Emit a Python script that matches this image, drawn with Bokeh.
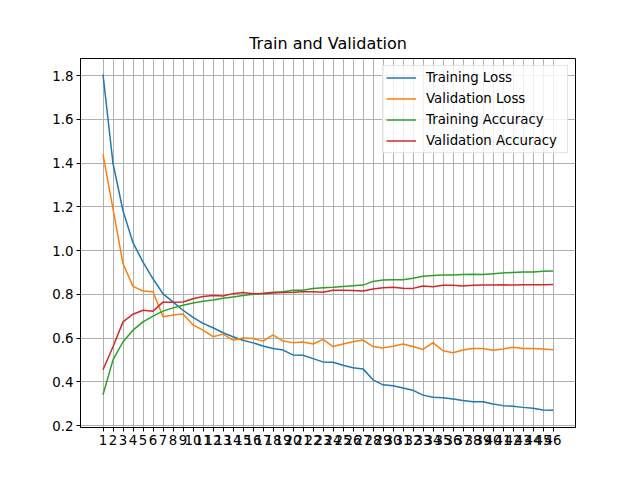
from bokeh.embed import file_html
from bokeh.models import ColumnDataSource, FixedTicker, Legend, LegendItem, PrintfTickFormatter, Range1d
from bokeh.plotting import figure
from bokeh.resources import INLINE

epochs = list(range(1, 47))

train_loss = [
    1.805, 1.398, 1.182, 1.036, 0.947, 0.871, 0.802, 0.765, 0.727, 0.694,
    0.667, 0.647, 0.624, 0.606, 0.590, 0.578, 0.564, 0.552, 0.545, 0.523,
    0.521, 0.506, 0.491, 0.489, 0.476, 0.464, 0.459, 0.409, 0.386, 0.382,
    0.372, 0.361, 0.339, 0.329, 0.327, 0.321, 0.314, 0.309, 0.309, 0.298,
    0.291, 0.288, 0.283, 0.279, 0.271, 0.270,
]
val_loss = [
    1.440, 1.190, 0.940, 0.836, 0.815, 0.812, 0.697, 0.705, 0.710, 0.660,
    0.636, 0.606, 0.618, 0.590, 0.600, 0.598, 0.586, 0.614, 0.586, 0.579,
    0.582, 0.573, 0.594, 0.561, 0.573, 0.583, 0.591, 0.561, 0.555, 0.562,
    0.573, 0.561, 0.548, 0.579, 0.542, 0.533, 0.545, 0.552, 0.552, 0.544,
    0.550, 0.558, 0.552, 0.552, 0.550, 0.547,
]
train_acc = [
    0.341, 0.500, 0.583, 0.636, 0.674, 0.700, 0.723, 0.738, 0.750, 0.760,
    0.768, 0.774, 0.782, 0.788, 0.794, 0.800, 0.805, 0.809, 0.812, 0.818,
    0.818, 0.826, 0.830, 0.832, 0.836, 0.839, 0.842, 0.859, 0.865, 0.867,
    0.867, 0.873, 0.882, 0.886, 0.888, 0.888, 0.891, 0.892, 0.891, 0.894,
    0.897, 0.900, 0.902, 0.902, 0.905, 0.906,
]
val_acc = [
    0.455, 0.560, 0.674, 0.709, 0.727, 0.723, 0.764, 0.764, 0.765, 0.780,
    0.790, 0.795, 0.792, 0.803, 0.808, 0.803, 0.803, 0.806, 0.808, 0.809,
    0.812, 0.812, 0.809, 0.818, 0.818, 0.817, 0.815, 0.824, 0.830, 0.832,
    0.828, 0.827, 0.838, 0.835, 0.841, 0.841, 0.838, 0.841, 0.842, 0.842,
    0.844, 0.842, 0.844, 0.844, 0.844, 0.845,
]
y_ticks = [0.2, 0.4, 0.6, 0.8, 1.0, 1.2, 1.4, 1.6, 1.8]

series = [
    ("Training Loss", train_loss, "#1f77b4"),
    ("Validation Loss", val_loss, "#ff7f0e"),
    ("Training Accuracy", train_acc, "#2ca02c"),
    ("Validation Accuracy", val_acc, "#d62728"),
]

FONT = "DejaVu Sans"

p = figure(
    width=624,
    height=464,
    x_range=Range1d(-1.25, 48.25),
    y_range=Range1d(0.191, 1.878),
    title="Train and Validation",
    output_backend="svg",
    toolbar_location=None,
    min_border_left=80,
    min_border_right=49,
    min_border_top=58,
    min_border_bottom=37,
)
p.background_fill_color = "white"
p.border_fill_color = "white"
p.outline_line_color = "black"
p.outline_line_width = 1

p.title.align = "center"
p.title.text_font = FONT
p.title.text_font_size = "16px"
p.title.text_font_style = "normal"
p.title.text_color = "black"
p.title.standoff = 12

p.xaxis.ticker = FixedTicker(ticks=epochs)
p.yaxis.ticker = FixedTicker(ticks=y_ticks)
p.yaxis.formatter = PrintfTickFormatter(format="%.1f")
for ax in p.axis:
    ax.major_label_text_font = FONT
    ax.major_label_text_font_size = "13.33px"
    ax.major_label_text_color = "black"
    ax.major_tick_in = 0
    ax.major_tick_out = 4
    ax.minor_tick_in = 0
    ax.minor_tick_out = 0
    ax.axis_line_color = "black"
    ax.major_tick_line_color = "black"
    ax.major_label_standoff = 3

p.grid.grid_line_color = "#b0b0b0"
p.grid.grid_line_width = 1
p.xgrid.ticker = FixedTicker(ticks=epochs)
p.ygrid.ticker = FixedTicker(ticks=y_ticks)

items = []
for name, vals, colour in series:
    src = ColumnDataSource(data=dict(epoch=epochs, val=vals))
    r = p.line("epoch", "val", source=src, line_color=colour, line_width=1.5)
    items.append(LegendItem(label=name, renderers=[r]))

legend = Legend(
    items=items,
    location="top_right",
    label_text_font=FONT,
    label_text_font_size="13.33px",
    label_text_color="black",
    glyph_width=30,
    glyph_height=17,
    label_height=17,
    label_width=138,
    label_standoff=10,
    spacing=4,
    padding=3,
    margin=7,
    border_line_color="#cccccc",
    background_fill_alpha=0.8,
)
p.add_layout(legend)

open("out.html", "w").write(file_html(p, INLINE))
